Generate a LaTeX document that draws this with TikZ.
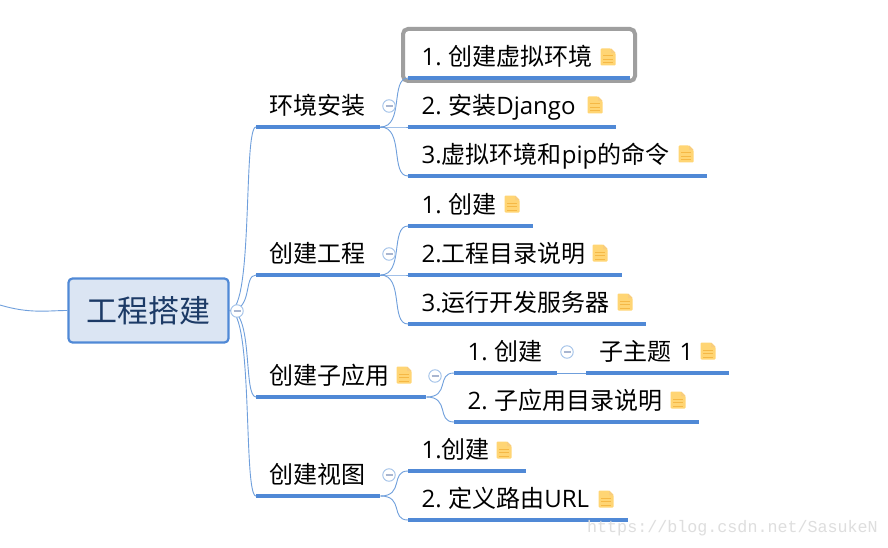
\documentclass[tikz,border=0pt]{standalone}
\usepackage{fontspec}
\setmainfont{Noto Sans CJK SC}
\newfontfamily\latinfont{Open Sans}
\newfontfamily\markfont{Liberation Mono}
\usepackage{tikz}
\usetikzlibrary{calc}
\newcommand{\numgap}{\kern6.5pt}
\definecolor{mapblue}{HTML}{5089D6}
\definecolor{linkblue}{HTML}{6F9FDC}
\definecolor{rootfill}{HTML}{DBE5F3}
\definecolor{roottext}{HTML}{1C3A66}
\definecolor{notefill}{HTML}{FFD574}
\definecolor{noteline}{HTML}{F5B845}
\definecolor{foldbar}{HTML}{A9B6D0}
\tikzset{
  topic/.style={anchor=south west,inner xsep=13.5pt,inner ysep=0pt,text height=20pt,text depth=12pt,
    text width=#1pt-27pt,align=left,font=\fontsize{24}{28}\selectfont},
  rootbox/.style={draw=mapblue,line width=2.2pt,fill=rootfill,rounded corners=4pt,text=roottext,
    minimum width=160pt,minimum height=64pt,inner sep=0pt,font=\fontsize{31}{36}\selectfont},
  rulebar/.style={mapblue,line width=3.4pt},
  branch/.style={linkblue,line width=0.9pt},
  fold/.style={circle,draw=linkblue!65,fill=white,line width=0.9pt,minimum size=12.5pt,inner sep=0pt,
    path picture={\draw[foldbar,line width=1.4pt] ($(path picture bounding box.center)+(-3.5,0)$) -- ($(path picture bounding box.center)+(3.5,0)$);}},
  noteicon/.pic={
    \fill[notefill,rounded corners=1pt] (-7.5,-8.5) -- (3,-8.5) -- (7.5,-4) -- (7.5,8.5) -- (-7.5,8.5) -- cycle;
    \fill[noteline!70] (3,-8.5) -- (7.5,-4) -- (3,-4) -- cycle;
    \foreach \y in {-1,2.5,6}{
      \draw[noteline,line width=1pt] (-5,\y) -- (5,\y);
    }
  }
}
\begin{document}
\begin{tikzpicture}[x=1pt,y=-1pt]
  \useasboundingbox (0,0) rectangle (888,548);
  \fill[white] (0,0) rectangle (888,548);
  \coordinate (offleft) at (0,305);

  \node[rootbox] (root) at (148.5,310.5) {工程搭建};

  \node[topic=124] (envsetup) at (256,127) {环境安装};
  \node[topic=124] (project) at (256,275) {创建工程};
  \node[topic=170] (subapp) at (256,397) {创建子应用};
  \node[topic=124] (views) at (256,496) {创建视图};

  \node[topic=222] (venv) at (408,78) {{\latinfont 1.}\numgap 创建虚拟环境};
  \node[topic=208] (django) at (408,127) {{\latinfont 2.}\numgap 安装{\latinfont Django}};
  \node[topic=299] (pipcmd) at (408,176) {{\latinfont 3.}虚拟环境和{\latinfont pip}的命令};
  \node[topic=125] (create) at (408,226) {{\latinfont 1.}\numgap 创建};
  \node[topic=214] (projdirs) at (408,275) {{\latinfont 2.}工程目录说明};
  \node[topic=238] (devserver) at (408,324) {{\latinfont 3.}运行开发服务器};
  \node[topic=103] (appcreate) at (454,373) {{\latinfont 1.}\numgap 创建};
  \node[topic=143] (subtopic) at (586,373) {子主题{\latinfont\ 1}};
  \node[topic=245] (appdirs) at (454,422) {{\latinfont 2.}\numgap 子应用目录说明};
  \node[topic=118] (viewcreate) at (408,471) {{\latinfont 1.}创建};
  \node[topic=220] (urlroute) at (408,520) {{\latinfont 2.}\numgap 定义路由{\latinfont URL}};

  \draw[gray!75,line width=4pt,rounded corners=5pt] (403,29) rectangle (635,81);

  \draw[branch] (offleft) .. controls +(30,9) and +(-20,0) .. (root.west);
  \foreach \t in {envsetup,project,subapp,views}{
    \draw[branch] (root.east) .. controls +(24,0) and +(-13,0) .. (\t.south west);
  }
  \foreach \t in {venv,django,pipcmd}{
    \draw[branch] (envsetup.south east) .. controls +(24,0) and +(-18,0) .. (\t.south west);
  }
  \foreach \t in {create,projdirs,devserver}{
    \draw[branch] (project.south east) .. controls +(24,0) and +(-18,0) .. (\t.south west);
  }
  \foreach \t in {appcreate,appdirs}{
    \draw[branch] (subapp.south east) .. controls +(24,0) and +(-18,0) .. (\t.south west);
  }
  \foreach \t in {viewcreate,urlroute}{
    \draw[branch] (views.south east) .. controls +(24,0) and +(-18,0) .. (\t.south west);
  }
  \draw[branch] (appcreate.south east) -- (subtopic.south west);

  \foreach \t in {envsetup,project,subapp,views,venv,django,pipcmd,create,projdirs,devserver,appcreate,subtopic,appdirs,viewcreate,urlroute}{
    \draw[rulebar] (\t.south west) -- (\t.south east);
  }

  \node[fold] (foldroot) at (237,311) {};
  \node[fold] (foldenv) at (389,106) {};
  \node[fold] (foldproject) at (389,254) {};
  \node[fold] (foldapp) at (435,376) {};
  \node[fold] (foldcreate) at (567,352) {};
  \node[fold] (foldviews) at (389,475) {};

  \foreach \x/\y in {608/57,595/105,686/154,512/204,600/253,625/302,404/375,708/351,678/400,504/450,606/499}{
    \pic at (\x,\y) {noteicon};
  }

  \node[anchor=east,inner sep=0pt,text=gray!26,font=\markfont\fontsize{16.7}{20}\selectfont] (watermark) at (878,528) {https://blog.csdn.net/SasukeN};
\end{tikzpicture}
\end{document}
